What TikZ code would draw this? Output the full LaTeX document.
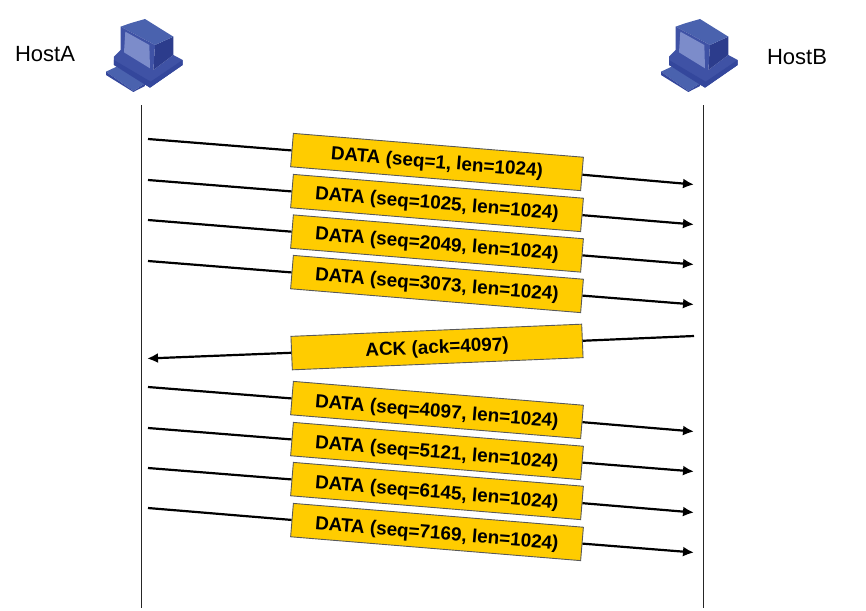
\documentclass[tikz,border=0pt]{standalone}
\usepackage{fontspec}
\setmainfont{Liberation Sans}
\usetikzlibrary{arrows.meta}
\definecolor{boxfill}{HTML}{FFCC00}
\definecolor{icoA}{HTML}{4A62AE}
\definecolor{icoB}{HTML}{3F52A5}
\definecolor{icoC}{HTML}{2C3C8C}
\definecolor{icoD}{HTML}{7C8CCA}
\definecolor{icoE}{HTML}{34479C}
\newcommand{\lowertext}[2]{\raisebox{-#1pt}[0pt][0pt]{#2}}
\tikzset{
  x=1pt,y=-1pt,
  msgbox/.style={draw=black!65,line width=0.9pt,fill=boxfill,minimum width=291pt,minimum height=33.5pt,inner sep=0pt,font=\fontsize{18.9}{20}\selectfont\bfseries,align=center},
  msgline/.style={line width=2.2pt,black},
  msgarrow/.style={msgline,-{Latex[length=11pt,width=10pt]}},
  lifeline/.style={line width=0.9pt,black!85},
  hostlabel/.style={font=\fontsize{22}{26}\selectfont,inner sep=0pt},
  icon/.pic={
    \begin{scope}[x=0.3333pt,y=-0.3333pt]
    \fill[icoA] (48,185)--(80,170)--(165,220)--(130,243)--cycle;
    \fill[icoE] (48,185)--(130,243)--(165,220)--(165,228)--(130,246)--(48,195)--cycle;
    \fill[icoB] (72,140)--(92,120)--(190,180)--(250,135)--(278,150)--(278,165)--(180,233)--(72,165)--cycle;
    \fill[icoE] (72,150)--(182,215)--(278,150)--(278,165)--(180,233)--(72,165)--cycle;
    \fill[icoC] (195,105)--(250,80)--(250,135)--(190,180)--cycle;
    \fill[icoA] (92,50)--(120,40)--(165,27)--(250,80)--(195,105)--cycle;
    \fill[icoB] (92,50)--(195,105)--(190,182)--(92,127)--cycle;
    \fill[icoD] (106,65)--(178,105)--(180,175)--(102,127)--cycle;
    \end{scope}
  }
}
\begin{document}
\begin{tikzpicture}
\useasboundingbox (0,0) rectangle (866,610);
\pic at (90,10) {icon};
\pic at (645,10) {icon};
\node[hostlabel] (hosta) at (45,54) {HostA};
\node[hostlabel] (hostb) at (797,57) {HostB};
\coordinate (lifeAtop) at (141.5,105);
\coordinate (lifeAbot) at (141.5,608);
\coordinate (lifeBtop) at (703.5,105);
\coordinate (lifeBbot) at (703.5,608);
\draw[lifeline] (lifeAtop) -- (lifeAbot);
\draw[lifeline] (lifeBtop) -- (lifeBbot);
% boxes
\node[msgbox,rotate=-4.7] (d1) at (437,162) {\lowertext{6.4}{DATA (seq=1, len=1024)}};
\node[msgbox,rotate=-4.7] (d2) at (437,203) {\lowertext{6.4}{DATA (seq=1025, len=1024)}};
\node[msgbox,rotate=-4.7] (d3) at (437,243.5) {\lowertext{6.4}{DATA (seq=2049, len=1024)}};
\node[msgbox,rotate=-4.7] (d4) at (437,284) {\lowertext{6.4}{DATA (seq=3073, len=1024)}};
\node[msgbox,rotate=2.4] (ack) at (437,347) {\lowertext{6.4}{ACK (ack=4097)}};
\node[msgbox,rotate=-4.7] (d5) at (437,410) {\lowertext{7.4}{DATA (seq=4097, len=1024)}};
\node[msgbox,rotate=-4.7] (d6) at (437,451) {\lowertext{7.4}{DATA (seq=5121, len=1024)}};
\node[msgbox,rotate=-4.7] (d7) at (437,491) {\lowertext{7.4}{DATA (seq=6145, len=1024)}};
\node[msgbox,rotate=-4.7] (d8) at (437,532) {\lowertext{7.4}{DATA (seq=7169, len=1024)}};
% ends
\foreach \n/\ya/\yb in {d1/139/184.5,d2/180/224.5,d3/220/264.5,d4/261/304.5,d5/387/431.5,d6/428/471.5,d7/468/512.5,d8/508/552.5}{
  \coordinate (\n s) at (148,\ya);
  \coordinate (\n e) at (694,\yb);
  \draw[msgline] (\n s) -- (\n);
  \draw[msgarrow] (\n) -- (\n e);
}
\coordinate (acks) at (694,336);
\coordinate (acke) at (147,358.5);
\draw[msgline] (acks) -- (ack);
\draw[msgarrow] (ack) -- (acke);
\end{tikzpicture}
\end{document}
